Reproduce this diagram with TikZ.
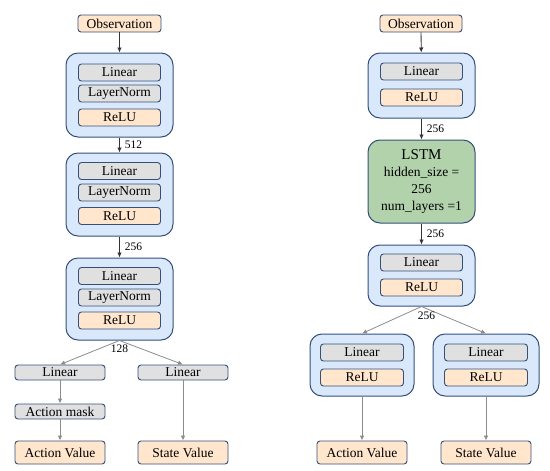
\documentclass[tikz,border=0pt]{standalone}
\usepackage{fontspec}
\setmainfont{Liberation Serif}
\usetikzlibrary{arrows.meta}
\usepackage{xcolor}
\definecolor{BlockFill}{HTML}{DAE8FC}
\definecolor{BlockLine}{HTML}{34507A}
\definecolor{GrayFill}{HTML}{E0E0E0}
\definecolor{OrangeFill}{HTML}{FFE6CC}
\definecolor{GreenFill}{HTML}{B2D2AB}
\definecolor{ArrowDark}{HTML}{333333}
\definecolor{ArrowGray}{HTML}{8C8C8C}

\begin{document}
\begin{tikzpicture}[
	x=1pt, y=-1pt,
	font=\rmfamily,
	% Outer rounded block
	block box/.style={
		draw=BlockLine,
		fill=BlockFill,
		line width=1pt,
		rounded corners=12pt,
		minimum width=107pt,
		inner sep=0pt
	},
	% Inner layer boxes
	layer box/.style={
		draw=BlockLine,
		fill=GrayFill,
		line width=0.9pt,
		rounded corners=3pt,
		minimum width=82pt,
		minimum height=17pt,
		inner sep=0pt,
		font=\rmfamily\fontsize{13.5}{15}\selectfont
	},
	relu box/.style={
		layer box,
		fill=OrangeFill
	},
	% Input / output boxes
	io box/.style={
		relu box,
		minimum height=23pt,
		minimum width=90pt
	},
	% Connectors
	arrow/.style={
		draw=ArrowDark,
		line width=0.8pt,
		-{Latex[length=5pt,width=4.5pt]}
	},
	long arrow/.style={
		arrow,
		draw=ArrowGray
	},
	size label/.style={
		font=\rmfamily\fontsize{11.5}{13}\selectfont,
		inner sep=1pt
	}
	]
	\useasboundingbox (0,0) rectangle (550,471);
	
	% ================= LEFT: MLP =================
	\node[relu box, minimum width=83pt] (Lobs) at (119.5,23.5) {Observation};
	
	\node[block box, minimum height=84pt] (L1) at (119.5,95) {};
	\node[layer box] (L1lin) at (119.5,72.5) {Linear};
	\node[layer box] (L1norm) at (119.5,93.5) {LayerNorm};
	\node[relu box] (L1relu) at (119.5,117.5) {ReLU};
	
	\node[block box, minimum height=83pt] (L2) at (119.5,194.5) {};
	\node[layer box] (L2lin) at (119.5,171) {Linear};
	\node[layer box] (L2norm) at (119.5,192.5) {LayerNorm};
	\node[relu box] (L2relu) at (119.5,216) {ReLU};
	
	\node[block box, minimum height=82pt] (L3) at (119.5,299) {};
	\node[layer box] (L3lin) at (119.5,276) {Linear};
	\node[layer box] (L3norm) at (119.5,297.5) {LayerNorm};
	\node[relu box] (L3relu) at (119.5,320.5) {ReLU};
	
	\node[layer box, minimum width=90pt, minimum height=15pt] (Llin1) at (60,372.5) {Linear};
	\node[layer box, minimum width=90pt, minimum height=15pt] (Llin2) at (183,372.5) {Linear};
	\node[layer box, minimum width=90pt, minimum height=15pt] (Lmask) at (60,411.5) {Action mask};
	\node[io box] (Lact) at (60,452.5) {Action Value};
	\node[io box] (Lstate) at (183,452.5) {State Value};
	
	\draw[arrow] (Lobs) -- (L1);
	\draw[arrow] (L1) -- node[size label, right, xshift=4pt] {512} (L2);
	\draw[arrow] (L2) -- node[size label, right, xshift=4pt] {256} (L3);
	\draw[long arrow] (L3.south) -- (Llin1.north);
	\draw[long arrow] (L3.south) -- (Llin2.north);
	\node[size label, below, yshift=-3pt] at (L3.south) {128};
	\draw[long arrow] (Llin1) -- (Lmask);
	\draw[long arrow] (Lmask) -- (Lact);
	\draw[long arrow] (Llin2) -- (Lstate);
	
	% ================= RIGHT: LSTM =================
	\node[relu box] (Robs) at (421,23.5) {Observation};
	
	\node[block box, minimum height=65pt] (R1) at (421.5,85.5) {};
	\node[layer box] (R1lin) at (421.5,71.5) {Linear};
	\node[relu box] (R1relu) at (421.5,97.5) {ReLU};
	
	\node[block box, minimum height=83pt, fill=GreenFill, align=center,
		font=\rmfamily\fontsize{13.5}{17}\selectfont] (Rlstm) at (421.5,181.5)
		{{\fontsize{15}{17}\selectfont LSTM}\\hidden\_size =\\256\\num\_layers =1};
	
	\node[block box, minimum height=61pt] (R3) at (421.5,275.5) {};
	\node[layer box] (R3lin) at (421.5,262.5) {Linear};
	\node[relu box] (R3relu) at (421.5,287.5) {ReLU};
	
	\node[block box, minimum width=104pt, minimum height=62pt] (RA) at (362,365) {};
	\node[layer box, minimum width=83pt] (RAlin) at (362,352.5) {Linear};
	\node[relu box, minimum width=83pt] (RArelu) at (362,377.5) {ReLU};
	
	\node[block box, minimum width=106pt, minimum height=62pt] (RS) at (486,365) {};
	\node[layer box, minimum width=83pt] (RSlin) at (486,352.5) {Linear};
	\node[relu box, minimum width=83pt] (RSrelu) at (486,377.5) {ReLU};
	
	\node[io box] (Ract) at (362,452.5) {Action Value};
	\node[io box] (Rstate) at (486,452.5) {State Value};
	
	\draw[arrow] (Robs) -- (R1);
	\draw[arrow] (R1) -- node[size label, right, xshift=4pt] {256} (Rlstm);
	\draw[arrow] (Rlstm) -- node[size label, right, xshift=4pt] {256} (R3);
	\draw[long arrow] (R3.south) -- (RA.north);
	\draw[long arrow] (R3.south) -- (RS.north);
	\node[size label, below, xshift=5pt, yshift=-4pt] at (R3.south) {256};
	\draw[long arrow] (RA) -- (Ract);
	\draw[long arrow] (RS) -- (Rstate);
	
\end{tikzpicture}
\end{document}
